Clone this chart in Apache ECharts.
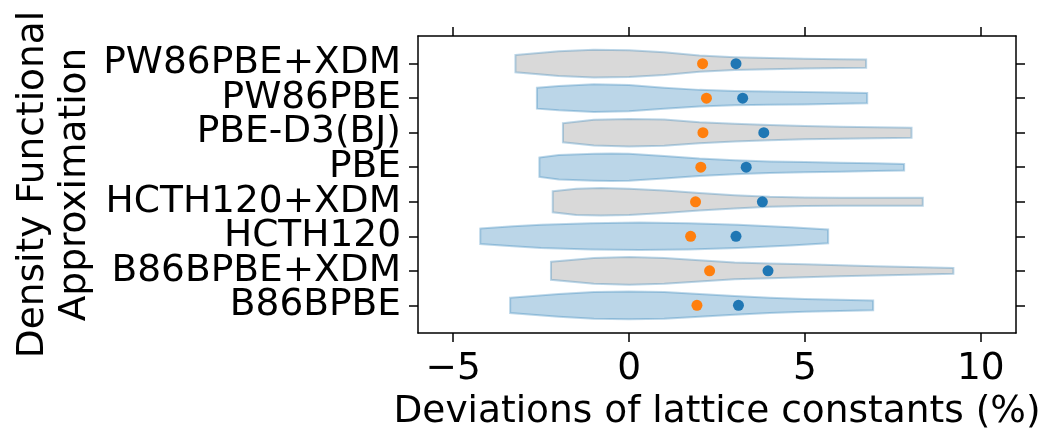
<!DOCTYPE html>
<html>
<head>
<meta charset="utf-8">
<script src="https://cdn.jsdelivr.net/npm/echarts@6/dist/echarts.min.js"></script>
<style>
  html, body { margin: 0; padding: 0; background: #ffffff; }
  #chart { width: 1042px; height: 431px; }
</style>
</head>
<body>
<div id="chart"></div>
<script>
// Categories, bottom (0) to top (7)
const categories = ['B86BPBE', 'B86BPBE+XDM', 'HCTH120', 'HCTH120+XDM', 'PBE', 'PBE-D3(BJ)', 'PW86PBE', 'PW86PBE+XDM'];
// Orange markers (median) and blue markers (mean), % deviation
const medians = [1.93, 2.29, 1.75, 1.89, 2.04, 2.10, 2.20, 2.09];
const means   = [3.11, 3.95, 3.04, 3.79, 3.33, 3.83, 3.23, 3.04];
// Violin outline: x positions (%) and relative density (max = 1), per category
const violinX = [
  [-3.38, -2, -1, 0, 1, 2, 3, 4, 5, 6, 6.94],
  [-2.22, -1, 0, 1, 2, 3, 4, 5, 6, 7, 8, 9.22],
  [-4.23, -3.3, -2.5, -1.1, 0.3, 1.7, 3.1, 4.6, 5.66],
  [-2.17, -1.5, -0.8, 0, 1, 2, 3, 4, 5, 6, 7, 8.35],
  [-2.55, -2, -1, -0.5, 0, 1, 2, 3, 4, 5, 6, 7, 7.82],
  [-1.88, -1, 0, 1, 2, 3, 4, 5, 6, 7, 8.03],
  [-2.62, -2, -1, 0, 1, 2, 3, 4, 5, 6, 6.77],
  [-3.23, -2, -1, 0, 1, 2, 3, 4, 5, 6, 6.74]
];
const violinDensity = [
  [0.56, 0.82, 0.96, 1.0, 0.96, 0.82, 0.68, 0.56, 0.47, 0.40, 0.35],
  [0.65, 0.93, 1.0, 0.93, 0.77, 0.61, 0.54, 0.47, 0.40, 0.33, 0.28, 0.21],
  [0.56, 0.72, 0.84, 0.95, 1.0, 0.95, 0.84, 0.66, 0.50],
  [0.76, 0.95, 1.0, 0.95, 0.81, 0.64, 0.48, 0.36, 0.31, 0.29, 0.29, 0.29],
  [0.70, 0.89, 0.98, 1.0, 0.98, 0.82, 0.63, 0.51, 0.42, 0.37, 0.33, 0.28, 0.23],
  [0.69, 0.93, 1.0, 0.95, 0.76, 0.64, 0.55, 0.48, 0.43, 0.40, 0.36],
  [0.76, 0.88, 1.0, 0.95, 0.76, 0.60, 0.52, 0.48, 0.45, 0.41, 0.37],
  [0.63, 0.89, 1.0, 0.96, 0.82, 0.58, 0.47, 0.40, 0.35, 0.31, 0.30]
];
const xTicks = [-5, 0, 5, 10];
const yTicks = [0, 1, 2, 3, 4, 5, 6, 7];
const yTicksEven = [0, 2, 4, 6];
const yTicksOdd = [1, 3, 5, 7];

const FONT = 'DejaVu Sans';
const FS = 37.5;
const HALF_WIDTH = 0.4;
const blueFill = 'rgba(31,119,180,0.3)';
const greyFill = 'rgba(128,128,128,0.3)';
const edge = 'rgba(31,119,180,0.3)';

const chart = echarts.init(document.getElementById('chart'), null, { renderer: 'canvas' });

function fmtNum(v) { return v < 0 ? '\u2212' + Math.abs(v) : String(v); }
function catName(v) { return categories[Math.round(v)]; }

const baseAxisLine = { show: true, onZero: false, lineStyle: { color: '#000', width: 1.5 } };
const tickStyle = { color: '#000', width: 1.5 };
const yLabelBase = { show: true, formatter: catName, fontFamily: FONT, fontSize: FS, color: '#000', margin: 17, hideOverlap: false, showMinLabel: true, showMaxLabel: true };

const option = {
  animation: false,
  backgroundColor: '#fff',
  grid: { left: 418, right: 26, top: 36, bottom: 98, containLabel: false, outerBoundsMode: 'none' },
  xAxis: [
    {
      type: 'value', min: -6, max: 11, position: 'bottom',
      axisLine: baseAxisLine,
      axisTick: { show: true, inside: false, length: 9, customValues: xTicks, lineStyle: tickStyle },
      axisLabel: { show: true, customValues: xTicks, formatter: fmtNum, fontFamily: FONT, fontSize: FS, color: '#000', margin: 17, showMinLabel: true, showMaxLabel: true },
      splitLine: { show: false },
      name: 'Deviations of lattice constants (%)',
      nameLocation: 'middle', nameGap: 58,
      nameTextStyle: { fontFamily: FONT, fontSize: FS, color: '#000' }
    },
    {
      type: 'value', min: -6, max: 11, position: 'top',
      axisLine: baseAxisLine,
      axisTick: { show: true, inside: false, length: 9, customValues: xTicks, lineStyle: tickStyle },
      axisLabel: { show: false },
      splitLine: { show: false }
    }
  ],
  yAxis: [
    {
      type: 'value', min: -0.8, max: 7.8, position: 'left', offset: 0,
      axisLine: baseAxisLine,
      axisTick: { show: true, inside: false, length: 9, customValues: yTicks, lineStyle: tickStyle },
      axisLabel: Object.assign({ customValues: yTicksEven }, yLabelBase),
      splitLine: { show: false },
      name: 'Density Functional\nApproximation',
      nameLocation: 'middle', nameRotate: 90, nameGap: 322,
      nameTextStyle: { fontFamily: FONT, fontSize: FS, color: '#000', lineHeight: 42, align: 'center' }
    },
    {
      type: 'value', min: -0.8, max: 7.8, position: 'right', offset: 0,
      axisLine: baseAxisLine,
      axisTick: { show: true, inside: false, length: 9, customValues: yTicks, lineStyle: tickStyle },
      axisLabel: { show: false },
      splitLine: { show: false }
    },
    {
      type: 'value', min: -0.8, max: 7.8, position: 'left', offset: 0,
      axisLine: { show: false, onZero: false },
      axisTick: { show: false },
      axisLabel: Object.assign({ customValues: yTicksOdd }, yLabelBase),
      splitLine: { show: false }
    }
  ],
  series: [
    {
      type: 'custom',
      xAxisIndex: 0, yAxisIndex: 0,
      data: categories.map((c, i) => [i]),
      renderItem: function (params, api) {
        const i = api.value(0);
        const xs = violinX[i], ds = violinDensity[i];
        const top = [], bottom = [];
        for (let k = 0; k < xs.length; k++) {
          top.push(api.coord([xs[k], i + ds[k] * HALF_WIDTH]));
          bottom.push(api.coord([xs[k], i - ds[k] * HALF_WIDTH]));
        }
        const pts = top.concat(bottom.reverse());
        return {
          type: 'polygon',
          shape: { points: pts },
          style: { fill: i % 2 === 0 ? blueFill : greyFill, stroke: edge, lineWidth: 2 }
        };
      },
      z: 1
    },
    {
      type: 'scatter', name: 'median', xAxisIndex: 0, yAxisIndex: 0,
      data: medians.map((m, i) => [m, i]),
      symbol: 'circle', symbolSize: 11,
      itemStyle: { color: '#ff7f0e', opacity: 1 },
      z: 3
    },
    {
      type: 'scatter', name: 'mean', xAxisIndex: 0, yAxisIndex: 0,
      data: means.map((m, i) => [m, i]),
      symbol: 'circle', symbolSize: 11,
      itemStyle: { color: '#1f77b4', opacity: 1 },
      z: 3
    }
  ]
};
chart.setOption(option);
</script>
</body>
</html>
